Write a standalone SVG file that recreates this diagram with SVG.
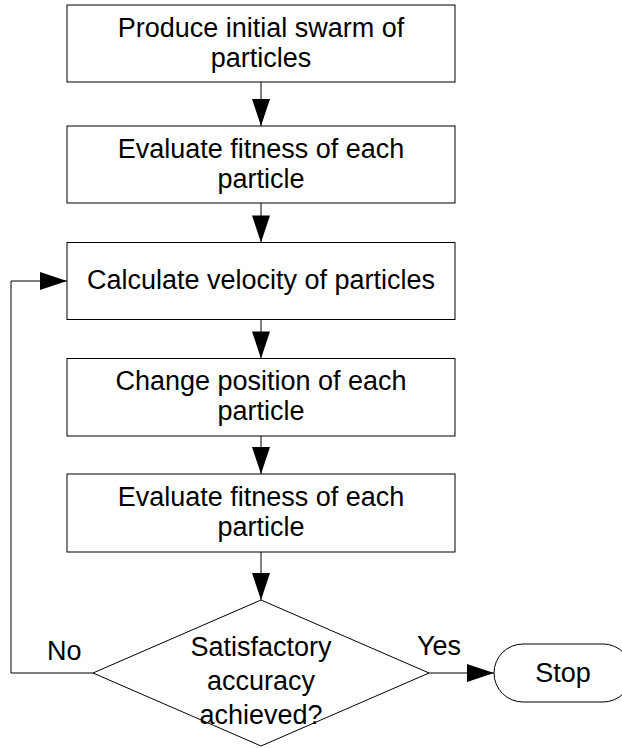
<svg xmlns="http://www.w3.org/2000/svg" width="622" height="748" viewBox="0 0 622 748">
<style>
.box{fill:#fff;stroke:#000;stroke-width:1}
.t{font-family:"Liberation Sans",Arial,sans-serif;font-size:27px;fill:#000;text-anchor:middle}
.l{font-family:"Liberation Sans",Arial,sans-serif;font-size:27px;fill:#000}
.c{fill:none;stroke:#000;stroke-width:1}
</style>
<defs>
<marker id="ah" markerUnits="userSpaceOnUse" markerWidth="28" markerHeight="18" refX="27" refY="9" orient="auto" overflow="visible">
<path d="M0,0 L27,9 L0,18 z" fill="#000"/>
</marker>
</defs>
<rect width="622" height="748" fill="#fff"/>
<g id="connectors">
<line class="c" x1="261" y1="82" x2="261" y2="126" marker-end="url(#ah)"/>
<line class="c" x1="261" y1="203" x2="261" y2="242.5" marker-end="url(#ah)"/>
<line class="c" x1="261" y1="319.5" x2="261" y2="358.5" marker-end="url(#ah)"/>
<line class="c" x1="261" y1="436" x2="261" y2="474" marker-end="url(#ah)"/>
<line class="c" x1="261" y1="552" x2="261" y2="600" marker-end="url(#ah)"/>
<polyline class="c" points="93,673 11,673 11,281 67,281" marker-end="url(#ah)"/>
<line class="c" x1="429" y1="673" x2="494" y2="673" marker-end="url(#ah)"/>
<text class="l" x="47" y="660">No</text>
<text class="l" x="417" y="655">Yes</text>
</g>
<g id="n1">
<rect class="box" x="67" y="5" width="388" height="77"/>
<text class="t" x="261" y="37">Produce initial swarm of</text>
<text class="t" x="261" y="67">particles</text>
</g>
<g id="n2">
<rect class="box" x="67" y="126" width="388" height="77"/>
<text class="t" x="261" y="158">Evaluate fitness of each</text>
<text class="t" x="261" y="188">particle</text>
</g>
<g id="n3">
<rect class="box" x="67" y="242.5" width="388" height="77"/>
<text class="t" x="261" y="289.3">Calculate velocity of particles</text>
</g>
<g id="n4">
<rect class="box" x="67" y="358.5" width="388" height="77.5"/>
<text class="t" x="261" y="390">Change position of each</text>
<text class="t" x="261" y="420">particle</text>
</g>
<g id="n5">
<rect class="box" x="67" y="474" width="388" height="78"/>
<text class="t" x="261" y="506">Evaluate fitness of each</text>
<text class="t" x="261" y="536">particle</text>
</g>
<g id="n6">
<polygon class="box" points="261,600 429,673 261,746 93,673"/>
<text class="t" x="261" y="656">Satisfactory</text>
<text class="t" x="261" y="690">accuracy</text>
<text class="t" x="261" y="724">achieved?</text>
</g>
<g id="n7">
<rect class="box" x="494" y="644" width="138" height="58" rx="29" ry="29"/>
<text class="t" x="563" y="682">Stop</text>
</g>
</svg>
